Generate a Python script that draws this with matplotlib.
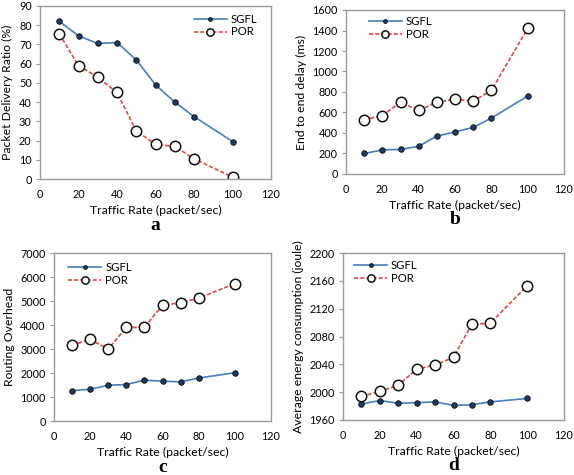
import matplotlib.pyplot as plt
from matplotlib.transforms import offset_copy

plt.rcParams["font.family"] = ["Lato", "DejaVu Sans"]

rate = [10, 20, 30, 40, 50, 60, 70, 80, 100]

pdr_sgfl = [82, 74.5, 70.5, 71, 62, 49, 40, 32.5, 19.5]
pdr_por = [75.5, 59, 53, 45, 25, 18, 17, 10.5, 1]

delay_sgfl = [200, 235, 240, 270, 370, 410, 455, 545, 760]
delay_por = [530, 570, 700, 620, 700, 730, 710, 815, 1420]

overhead_sgfl = [1270, 1320, 1490, 1520, 1700, 1660, 1630, 1790, 2010]
overhead_por = [3160, 3400, 3000, 3900, 3900, 4830, 4920, 5120, 5720]

energy_sgfl = [1983, 1988, 1984, 1985, 1986, 1981, 1982, 1986, 1991]
energy_por = [1994, 2001, 2010, 2033, 2039, 2050, 2098, 2099, 2153]

W, H = 574, 475


def make_axes(fig, left, top, right, bottom):
    return fig.add_axes([left / W, 1 - bottom / H, (right - left) / W, (bottom - top) / H])


def draw(ax, sgfl, por, ylim, ystep, ylabel, letter, legend_loc, legend_anchor):
    ax.plot(rate, sgfl, color="#4a7ebb", lw=1.2, marker="o", ms=4,
            mfc="#1f3864", mec="#111111", mew=0.6, label="SGFL")
    ax.plot(rate, por, color="#e04848", lw=1.2, ls=(0, (2.5, 1.2)), marker="o", ms=7.5,
            mfc="white", mec="#111111", mew=1.1, label="POR")
    ax.set_xlim(0, 120)
    ax.set_ylim(*ylim)
    ax.set_xticks(range(0, 121, 20))
    ax.set_yticks(range(ylim[0], ylim[1] + 1, ystep))
    for s in ax.spines.values():
        s.set_color("#9a9a9a")
        s.set_linewidth(1.0)
    ax.tick_params(labelsize=7.8, length=3, color="#9a9a9a", pad=3)
    ax.tick_params(axis="x", length=0, pad=7)
    ax.set_xlabel("Traffic Rate (packet/sec)", fontsize=8.8, labelpad=4)
    ax.set_ylabel(ylabel, fontsize=8.8, labelpad=4)
    ax.legend(loc=legend_loc, bbox_to_anchor=legend_anchor, frameon=False,
              fontsize=8.2, handlelength=2.9, borderaxespad=0, borderpad=0,
              labelspacing=0.15, handletextpad=0.35, markerscale=0.7)
    tr = offset_copy(ax.transAxes, fig=ax.figure, x=0, y=-46, units="dots")
    ax.text(0.5, 0, letter, transform=tr, ha="center", va="center",
            fontsize=14, fontweight="bold", family="Liberation Serif")


fig = plt.figure(figsize=(W / 100, H / 100), dpi=100)

ax_a = make_axes(fig, 40, 6, 271, 179)
draw(ax_a, pdr_sgfl, pdr_por, (0, 90), 10, "Packet Delivery Ratio (%)", "a",
     "upper right", (0.94, 0.955))

ax_b = make_axes(fig, 346, 10, 564, 174)
draw(ax_b, delay_sgfl, delay_por, (0, 1600), 200, "End to end delay (ms)", "b",
     "upper left", (0.105, 0.963))

ax_c = make_axes(fig, 54, 253, 271, 421)
draw(ax_c, overhead_sgfl, overhead_por, (0, 7000), 1000, "Routing Overhead", "c",
     "upper left", (0.065, 0.946))

ax_d = make_axes(fig, 343, 253, 564, 420)
draw(ax_d, energy_sgfl, energy_por, (1960, 2200), 40, "Average energy consumption (joule)", "d",
     "upper left", (0.05, 0.958))

fig.savefig("out.png", dpi=100)
